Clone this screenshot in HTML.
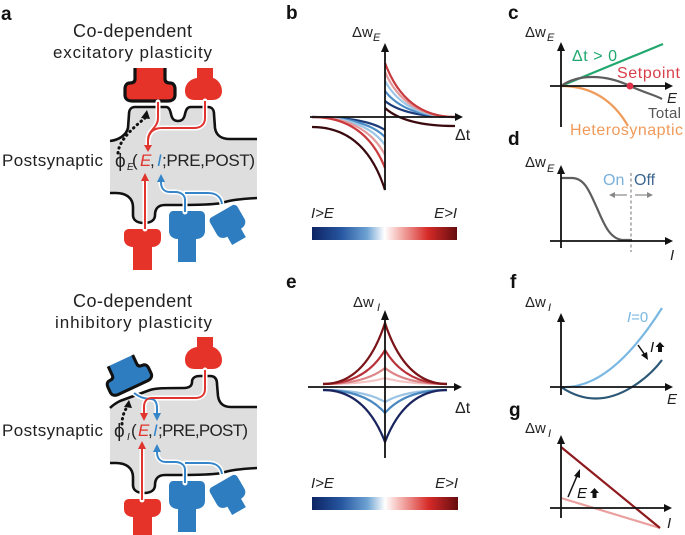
<!DOCTYPE html>
<html><head><meta charset="utf-8"><style>html,body{margin:0;padding:0;background:#fff}svg{display:block}</style></head>
<body>
<svg width="685" height="535" viewBox="0 0 685 535" xmlns="http://www.w3.org/2000/svg" font-family="Liberation Sans, DejaVu Sans, sans-serif">
<defs>
<linearGradient id="cb" x1="0" x2="1" y1="0" y2="0">
<stop offset="0" stop-color="#0d2463"/>
<stop offset="0.2" stop-color="#2656a0"/>
<stop offset="0.38" stop-color="#6ea3d3"/>
<stop offset="0.5" stop-color="#ffffff"/>
<stop offset="0.62" stop-color="#f2a9a5"/>
<stop offset="0.8" stop-color="#d62a28"/>
<stop offset="1" stop-color="#650c0f"/>
</linearGradient>
</defs>
<rect width="685" height="535" fill="#fff"/>

<!-- panel labels -->
<g font-size="19" font-weight="bold" fill="#111">
<text x="1" y="20">a</text>
<text x="286" y="19">b</text>
<text x="508" y="19">c</text>
<text x="508" y="145">d</text>
<text x="286" y="288">e</text>
<text x="510" y="288">f</text>
<text x="509" y="416">g</text>
</g>

<!-- ========== PANEL A TOP ========== -->
<text x="73" y="37" font-size="18" textLength="119" fill="#222">Co-dependent</text>
<text x="53" y="58" font-size="17" textLength="159" fill="#222">excitatory plasticity</text>

<path d="M110,141 C118,140 126,136 128,128 L129,114 C129,110 131,107 135,107 L166,107 C169,107 170,110 171,114 C172,119 174,121 178,121 C182,121 184,119 185,114 C186,110 187,107 191,107 L208,107 C212,107 214,110 214,114 L215,128 C216,135 221,139 230,139 L257,139 L257,198 C240,199 230,200 222,203 C210,205 190,205 165,205 C158,205 155,209 155,215 C155,220 151,223 144,223 C137,223 133,220 133,215 L133,207 C133,198 126,193 116,193 L110,193 Z" fill="#dedede"/>
<g fill="none" stroke="#111" stroke-width="2.6" stroke-linejoin="round">
<path d="M110,141 C118,140 126,136 128,128 L129,114 C129,110 131,107 135,107 L166,107 C169,107 170,110 171,114 C172,119 174,121 178,121 C182,121 184,119 185,114 C186,110 187,107 191,107 L208,107 C212,107 214,110 214,114 L215,128 C216,135 221,139 230,139 L257,139"/>
<path d="M257,198 C240,199 230,200 222,203 C210,205 190,205 165,205 C158,205 155,209 155,215 C155,220 151,223 144,223 C137,223 133,220 133,215 L133,207 C133,198 126,193 116,193 L110,193"/>
</g>

<!-- synapses top -->
<path d="M135,68 L135,79 C135,82 133,83 130,83 C127,83 125,85 125,89 L125,95 C125,99 128,101 132,101 L168,101 C172,101 175,99 175,95 L175,89 C175,85 173,83 170,83 C167,83 165,82 165,79 L165,68 Z" fill="#e6332a"/>
<path d="M135,68 L135,79 C135,82 133,83 130,83 C127,83 125,85 125,89 L125,95 C125,99 128,101 132,101 L168,101 C172,101 175,99 175,95 L175,89 C175,85 173,83 170,83 C167,83 165,82 165,79 L165,68" fill="none" stroke="#111" stroke-width="3.2" stroke-linejoin="round"/>
<path d="M197,68 L197,78 C190,79 185,84 185,91 C185,97 189,100 195,100 L212,100 C218,100 222,97 222,91 C222,84 217,79 213,78 L213,68 Z" fill="#e6332a"/>
<path d="M129,229 L156,229 C159,229 161,231 161,234 L161,239 C161,244 157,247 152,247 L152,270 L133,270 L133,247 C128,247 124,244 124,239 L124,234 C124,231 126,229 129,229 Z" fill="#e6332a"/>
<path d="M173,211 L200,211 C203,211 205,213 205,216 L205,231 C205,236 201,239 196,239 L196,262 L178,262 L178,239 C173,239 169,236 169,231 L169,216 C169,213 171,211 173,211 Z" fill="#2e7dc0"/>
<path d="M173,211 L200,211 C203,211 205,213 205,216 L205,231 C205,236 201,239 196,239 L196,250 L178,250 L178,239 C173,239 169,236 169,231 L169,216 C169,213 171,211 173,211 Z" fill="#2e7dc0" transform="translate(228,222) rotate(-30) scale(0.88) translate(-187,-225)"/>

<!-- lines top -->
<g fill="none" stroke="#fff" stroke-width="5" stroke-linecap="round" stroke-linejoin="round">
<path d="M158,102 L158,118 C158,128 148,130 148,140 L148,145"/>
<path d="M205,101 L205,118 C205,125 200,128 194,128 L162,128 C154,128 149,132 148,140"/>
<path d="M145,229 L145,181"/>
<path d="M185,212 L185,200 C185,195 181,192 175,192 L170,192 C164,192 161,188 161,182"/>
<path d="M222,204 C221,197 216,193 208,193 L185,193"/>
</g>
<g fill="none" stroke-width="2" stroke-linejoin="round">
<path d="M158,102 L158,118 C158,128 148,130 148,140 L148,145" stroke="#e0352f"/>
<path d="M205,101 L205,118 C205,125 200,128 194,128 L162,128 C154,128 149,132 148,140" stroke="#e0352f"/>
<path d="M145,229 L145,181" stroke="#e0352f"/>
<path d="M185,212 L185,200 C185,195 181,192 175,192 L170,192 C164,192 161,188 161,182" stroke="#3585c8"/>
<path d="M222,204 C221,197 216,193 208,193 L185,193" stroke="#3585c8"/>
</g>
<polygon points="144,145 152,145 148,152" fill="#e0352f"/>
<polygon points="141,181 149,181 145,173" fill="#e0352f"/>
<polygon points="157,182 165,182 161,174" fill="#3585c8"/>
<path d="M118,153 C119,140 133,128 145,118" fill="none" stroke="#111" stroke-width="3" stroke-dasharray="0.5 4.5" stroke-linecap="round"/>
<polygon points="141,118 150,119 147,110" fill="#111"/>

<text x="2" y="166" font-size="17" textLength="101" fill="#222">Postsynaptic</text>
<g font-size="17" fill="#222">
<text x="115" y="167" font-size="19">ϕ</text>
<text x="127" y="170" font-size="10" font-style="italic">E</text>
<text x="132" y="166">(</text>
<text x="140" y="166" font-style="italic" fill="#e0352f">E</text>
<text x="150" y="166">,</text>
<text x="157" y="166" font-style="italic" fill="#3585c8">I</text>
<text x="162" y="166" textLength="93">;PRE,POST)</text>
</g>

<!-- ========== PANEL A BOTTOM ========== -->
<text x="73" y="307" font-size="18" textLength="119" fill="#222">Co-dependent</text>
<text x="55" y="328" font-size="17" textLength="157" fill="#222">inhibitory plasticity</text>

<path d="M110,408 C113,405 116,403 120,401 L150,390 C156,388 165,388 184,388 C189,388 192,386 192,382 C192,378 195,376 200,376 L210,376 C215,376 217,379 217,384 L218,396 C219,403 223,407 231,407 L257,407 L257,468 C240,469 230,470 222,473 C210,475 190,475 165,475 C158,475 155,479 155,485 C155,490 151,493 144,493 C137,493 133,490 133,485 L133,477 C133,468 126,463 116,463 L110,463 Z" fill="#dedede"/>
<g fill="none" stroke="#111" stroke-width="2.6" stroke-linejoin="round">
<path d="M110,408 C113,405 116,403 120,401 L150,390 C156,388 165,388 184,388 C189,388 192,386 192,382 C192,378 195,376 200,376 L210,376 C215,376 217,379 217,384 L218,396 C219,403 223,407 231,407 L257,407"/>
<path d="M257,468 C240,469 230,470 222,473 C210,475 190,475 165,475 C158,475 155,479 155,485 C155,490 151,493 144,493 C137,493 133,490 133,485 L133,477 C133,468 126,463 116,463 L110,463"/>
</g>

<g transform="translate(128,377) rotate(-25) scale(0.9) translate(-150,-88)">
<path d="M135,68 L135,79 C135,82 133,83 130,83 C127,83 125,85 125,89 L125,95 C125,99 128,101 132,101 L168,101 C172,101 175,99 175,95 L175,89 C175,85 173,83 170,83 C167,83 165,82 165,79 L165,68 Z" fill="#2e7dc0"/>
<path d="M135,68 L135,79 C135,82 133,83 130,83 C127,83 125,85 125,89 L125,95 C125,99 128,101 132,101 L168,101 C172,101 175,99 175,95 L175,89 C175,85 173,83 170,83 C167,83 165,82 165,79 L165,68" fill="none" stroke="#111" stroke-width="3.4" stroke-linejoin="round"/>
</g>
<path d="M197,68 L197,78 C190,79 185,84 185,91 C185,97 189,100 195,100 L212,100 C218,100 222,97 222,91 C222,84 217,79 213,78 L213,68 Z" fill="#e6332a" transform="translate(0,269)"/>
<g transform="translate(0,270)">
<path d="M129,229 L156,229 C159,229 161,231 161,234 L161,239 C161,244 157,247 152,247 L152,270 L133,270 L133,247 C128,247 124,244 124,239 L124,234 C124,231 126,229 129,229 Z" fill="#e6332a"/>
<path d="M173,211 L200,211 C203,211 205,213 205,216 L205,231 C205,236 201,239 196,239 L196,262 L178,262 L178,239 C173,239 169,236 169,231 L169,216 C169,213 171,211 173,211 Z" fill="#2e7dc0"/>
<path d="M173,211 L200,211 C203,211 205,213 205,216 L205,231 C205,236 201,239 196,239 L196,250 L178,250 L178,239 C173,239 169,236 169,231 L169,216 C169,213 171,211 173,211 Z" fill="#2e7dc0" transform="translate(228,222) rotate(-30) scale(0.88) translate(-187,-225)"/>
</g>

<g fill="none" stroke="#fff" stroke-width="5" stroke-linecap="round" stroke-linejoin="round">
<path d="M205,370 L205,389 C205,395 201,398 195,398 L152,398 C147,398 144,401 144,407 L144,414"/>
<path d="M142,500 L142,449"/>
<path d="M134,393 C139,397 145,399 151,399 C155,399 157,403 157,408 L157,414"/>
<path d="M185,483 L185,470 C185,465 181,462 175,462 L166,462 C160,462 157,458 157,452"/>
<path d="M222,474 C221,467 216,463 208,463 L185,463"/>
</g>
<g fill="none" stroke-width="2" stroke-linejoin="round">
<path d="M134,393 C139,397 145,399 151,399 C155,399 157,403 157,408 L157,414" stroke="#3585c8"/>
<path d="M205,370 L205,389 C205,395 201,398 195,398 L152,398 C147,398 144,401 144,407 L144,414" stroke="#e0352f"/>
<path d="M142,500 L142,449" stroke="#e0352f"/>
<path d="M185,483 L185,470 C185,465 181,462 175,462 L166,462 C160,462 157,458 157,452" stroke="#3585c8"/>
<path d="M222,474 C221,467 216,463 208,463 L185,463" stroke="#3585c8"/>
</g>
<polygon points="140,413 148,413 144,421" fill="#e0352f"/>
<polygon points="138,449 146,449 142,441" fill="#e0352f"/>
<polygon points="153,413 161,413 157,421" fill="#3585c8"/>
<polygon points="153,452 161,452 157,444" fill="#3585c8"/>
<path d="M122,424 C122,417 124,412 127,407" fill="none" stroke="#111" stroke-width="3" stroke-dasharray="0.5 4.5" stroke-linecap="round"/>
<polygon points="124,407 132,408 129,400" fill="#111"/>

<text x="2" y="436" font-size="17" textLength="101" fill="#222">Postsynaptic</text>
<g font-size="17" fill="#222">
<text x="114" y="437" font-size="19">ϕ</text>
<text x="127" y="440" font-size="10" font-style="italic">I</text>
<text x="131" y="436">(</text>
<text x="138" y="436" font-style="italic" fill="#e0352f">E</text>
<text x="148" y="436">,</text>
<text x="153" y="436" font-style="italic" fill="#3585c8">I</text>
<text x="158" y="436" textLength="90">;PRE,POST)</text>
</g>

<!-- ========== PANEL B ========== -->
<g fill="none" stroke-width="2.2">
<path d="M385,101 Q405,117 455,117" stroke="#1d3b78"/>
<path d="M385,91 Q405,117 455,117" stroke="#4b8cc6"/>
<path d="M385,81 Q405,117 455,117" stroke="#9cc7e6"/>
<path d="M385,72 Q405,117 455,117" stroke="#e49a9c"/>
<path d="M385,63 Q405,117 455,117" stroke="#c83a3e"/>
<path d="M385,108 Q405,126 455,126" stroke="#3a0a0e"/>
<path d="M312,117 Q365,117 385,130" stroke="#1d3b78"/>
<path d="M312,117 Q365,117 385,137" stroke="#4b8cc6"/>
<path d="M312,117 Q365,117 385,145" stroke="#9cc7e6"/>
<path d="M312,117 Q365,117 385,155" stroke="#e49a9c"/>
<path d="M312,117 Q365,117 385,168" stroke="#c83a3e"/>
<path d="M312,127 Q365,127 385,190" stroke="#3a0a0e"/>
</g>
<g stroke="#111" stroke-width="1.8">
<line x1="385" y1="190" x2="385" y2="50"/>
<line x1="310" y1="117" x2="456" y2="117"/>
</g>
<polygon points="381,52 389,52 385,43" fill="#111"/>
<polygon points="455,113 455,121 463,117" fill="#111"/>
<text x="352" y="37" font-size="15" fill="#222">Δw</text>
<text x="373" y="41" font-size="11" font-style="italic" fill="#222">E</text>
<text x="455" y="140" font-size="16" fill="#222">Δt</text>
<text x="311" y="218" font-size="15" font-style="italic" fill="#222">I&gt;E</text>
<text x="457" y="218" font-size="15" font-style="italic" fill="#222" text-anchor="end">E&gt;I</text>
<rect x="312" y="227" width="145" height="13" fill="url(#cb)"/>

<!-- ========== PANEL E ========== -->
<g fill="none" stroke-width="2.2">
<path d="M323,384 Q365,384 385,378 Q405,384 447,384" stroke="#f3c4c4"/>
<path d="M323,384 Q365,384 385,368 Q405,384 447,384" stroke="#de8587"/>
<path d="M323,384 Q365,384 385,350 Q405,384 447,384" stroke="#b8323a"/>
<path d="M323,384 Q365,384 385,323 Q405,384 447,384" stroke="#7a1418"/>
<path d="M323,390 Q365,390 385,402 Q405,390 447,390" stroke="#9cc4e4"/>
<path d="M323,390 Q365,390 385,413 Q405,390 447,390" stroke="#4a88c0"/>
<path d="M323,390 Q365,390 385,442 Q405,390 447,390" stroke="#1a2560"/>
</g>
<g stroke="#111" stroke-width="1.8">
<line x1="385" y1="458" x2="385" y2="318"/>
<line x1="308" y1="387" x2="455" y2="387"/>
</g>
<polygon points="381,320 389,320 385,310" fill="#111"/>
<polygon points="454,383 454,391 462,387" fill="#111"/>
<text x="353" y="307" font-size="15" fill="#222">Δw</text>
<text x="377" y="311" font-size="11" font-style="italic" fill="#222">I</text>
<text x="455" y="413" font-size="16" fill="#222">Δt</text>
<text x="311" y="488" font-size="15" font-style="italic" fill="#222">I&gt;E</text>
<text x="458" y="488" font-size="15" font-style="italic" fill="#222" text-anchor="end">E&gt;I</text>
<rect x="312" y="497" width="146" height="13" fill="url(#cb)"/>

<!-- ========== PANEL C ========== -->
<path d="M561,86 L663,44" stroke="#22a86e" stroke-width="2.2" fill="none"/>
<path d="M561,86 C578,74 605,74 630,86 C645,93 655,95 662,99" stroke="#5e5e5e" stroke-width="2.2" fill="none"/>
<path d="M561,86 Q605,86 628,126" stroke="#f09a5a" stroke-width="2.2" fill="none"/>
<g stroke="#111" stroke-width="1.8">
<line x1="561" y1="127" x2="561" y2="50"/>
<line x1="550" y1="86" x2="665" y2="86"/>
</g>
<polygon points="557,51 565,51 561,42" fill="#111"/>
<polygon points="665,82 665,90 673,86" fill="#111"/>
<circle cx="630" cy="86" r="3.5" fill="#e0304a"/>
<text x="525" y="37" font-size="15" fill="#222">Δw</text>
<text x="547" y="41" font-size="11" font-style="italic" fill="#222">E</text>
<text x="572" y="61" font-size="16" textLength="45" fill="#22a86e">Δt &gt; 0</text>
<text x="617" y="78" font-size="16" textLength="63" fill="#d8404a">Setpoint</text>
<text x="667" y="103" font-size="15" font-style="italic" fill="#222">E</text>
<text x="648" y="118" font-size="15" textLength="33" fill="#555">Total</text>
<text x="570" y="135" font-size="16" textLength="113" fill="#f09a5a">Heterosynaptic</text>

<!-- ========== PANEL D ========== -->
<line x1="631" y1="173" x2="631" y2="252" stroke="#888" stroke-width="1.2" stroke-dasharray="3 2.5"/>
<path d="M561,178 L572,178 C585,178 590,193 597,208 C604,224 610,240 624,240 L632,240" stroke="#5e5e5e" stroke-width="2.2" fill="none"/>
<g stroke="#111" stroke-width="1.8">
<line x1="561" y1="248" x2="561" y2="173"/>
<line x1="550" y1="241" x2="665" y2="241"/>
</g>
<polygon points="557,174 565,174 561,165" fill="#111"/>
<polygon points="665,237 665,245 673,241" fill="#111"/>
<text x="525" y="167" font-size="15" fill="#222">Δw</text>
<text x="547" y="172" font-size="11" font-style="italic" fill="#222">E</text>
<text x="603" y="185" font-size="16" fill="#7ab0da">On</text>
<text x="634" y="185" font-size="16" fill="#3d6690">Off</text>
<g stroke="#888" stroke-width="1.2">
<line x1="627" y1="195" x2="614" y2="195"/>
<line x1="635" y1="195" x2="648" y2="195"/>
</g>
<polygon points="609,195 615,192 615,198" fill="#888"/>
<polygon points="653,195 647,192 647,198" fill="#888"/>
<text x="670" y="260" font-size="15" font-style="italic" fill="#222">I</text>

<!-- ========== PANEL F ========== -->
<path d="M561,387 Q610,390 662,308" stroke="#7ab8e3" stroke-width="2.2" fill="none"/>
<path d="M561,387 Q595,410 632,387 Q650,376 662,360" stroke="#2b5876" stroke-width="2.2" fill="none"/>
<g stroke="#111" stroke-width="1.8">
<line x1="561" y1="395" x2="561" y2="321"/>
<line x1="550" y1="387" x2="665" y2="387"/>
</g>
<polygon points="557,322 565,322 561,313" fill="#111"/>
<polygon points="665,383 665,391 673,387" fill="#111"/>
<text x="525" y="307" font-size="15" fill="#222">Δw</text>
<text x="548" y="311" font-size="11" font-style="italic" fill="#222">I</text>
<text x="627" y="322" font-size="15" fill="#7ab8e3"><tspan font-style="italic">I</tspan>=0</text>
<line x1="638" y1="345" x2="645" y2="355" stroke="#111" stroke-width="1.5"/>
<polygon points="648,360 641,355 647,352" fill="#111"/>
<text x="650" y="352" font-size="15" font-style="italic" fill="#111">I</text>
<polygon points="660,342 664.5,347 662,347 662,352 658,352 658,347 655.5,347" fill="#111"/>
<text x="667" y="404" font-size="15" font-style="italic" fill="#222">E</text>

<!-- ========== PANEL G ========== -->
<path d="M561,498 L660,528" stroke="#eba0a0" stroke-width="2.2" fill="none"/>
<path d="M561,447 L660,528" stroke="#8e1a1e" stroke-width="2.2" fill="none"/>
<g stroke="#111" stroke-width="1.8">
<line x1="561" y1="518" x2="561" y2="443"/>
<line x1="550" y1="508" x2="664" y2="508"/>
</g>
<polygon points="557,444 565,444 561,435" fill="#111"/>
<polygon points="664,504 664,512 672,508" fill="#111"/>
<text x="525" y="433" font-size="15" fill="#222">Δw</text>
<text x="548" y="437" font-size="11" font-style="italic" fill="#222">I</text>
<line x1="568" y1="497" x2="577" y2="476" stroke="#111" stroke-width="1.5"/>
<polygon points="580,469 574,476 580,478" fill="#111"/>
<text x="577" y="498" font-size="15" font-style="italic" fill="#111">E</text>
<polygon points="594.5,488 599,493 596.5,493 596.5,498 592.5,498 592.5,493 590,493" fill="#111"/>
<text x="667" y="528" font-size="15" font-style="italic" fill="#222">I</text>
</svg>
</body></html>
